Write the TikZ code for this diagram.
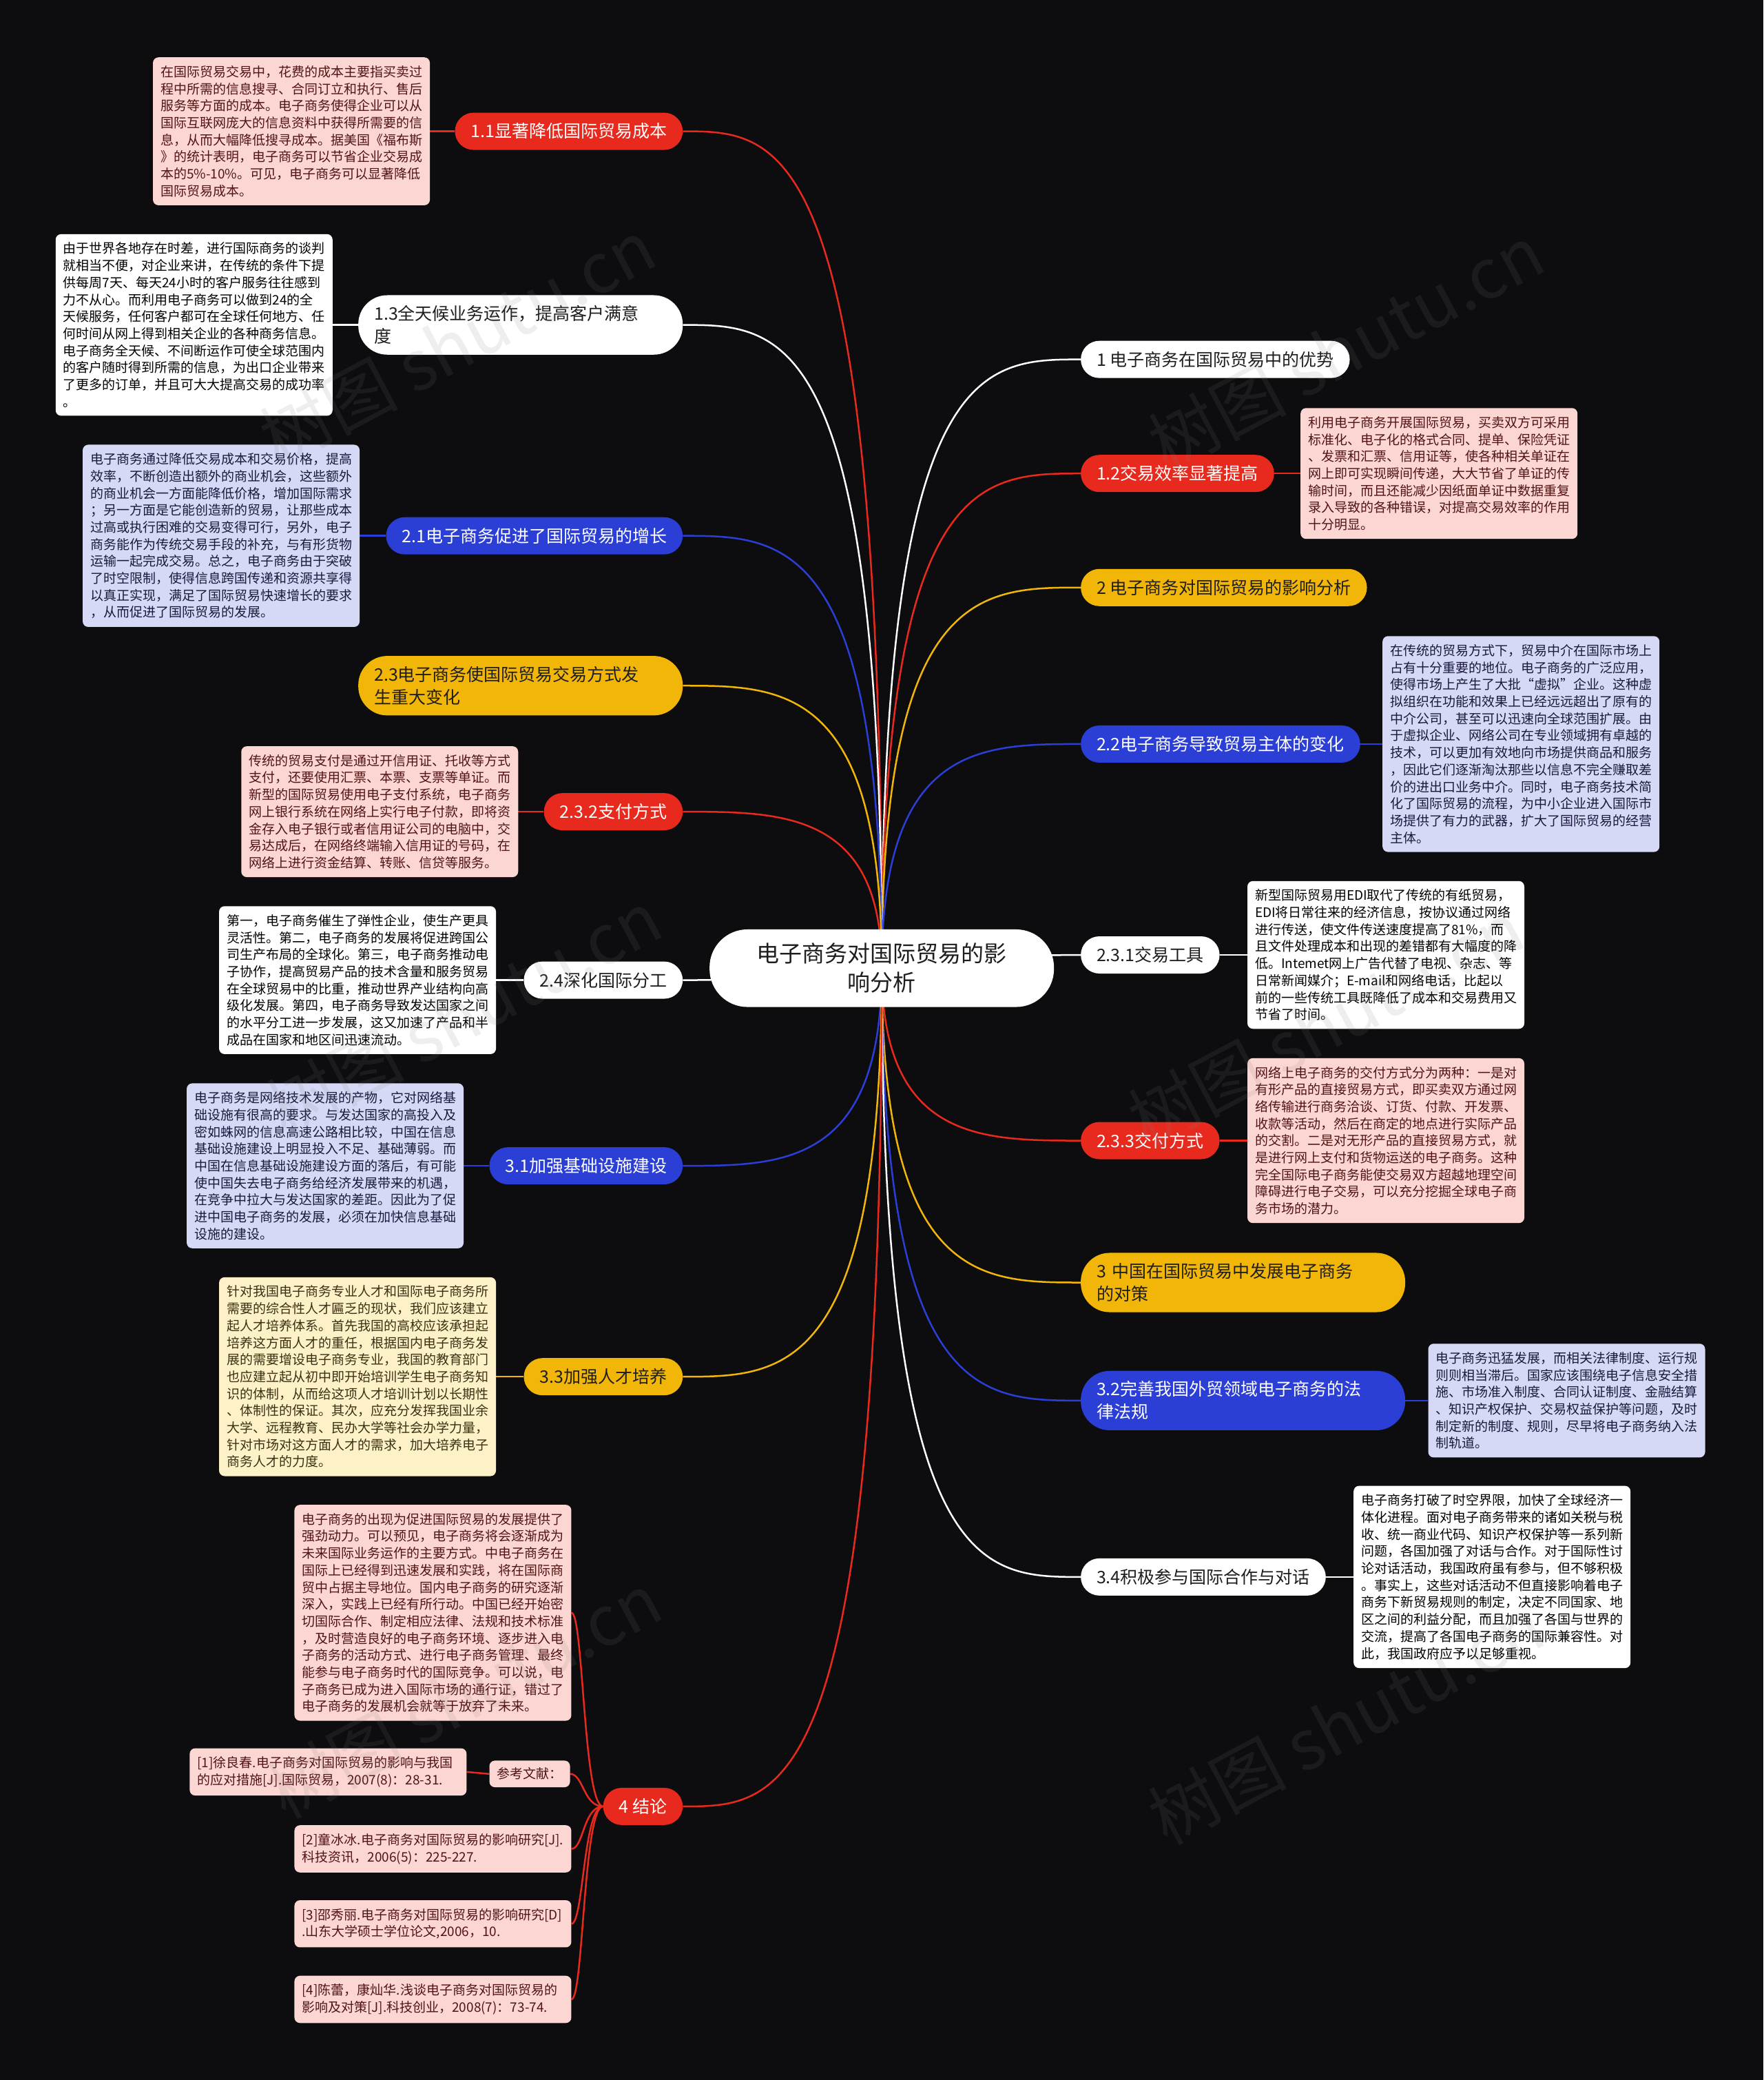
\documentclass[tikz,border=0pt]{standalone}
\usepackage{fontspec}
\newfontfamily\cjk{Noto Sans CJK SC}
\usetikzlibrary{positioning}
\definecolor{bgc}{RGB}{13,13,15}
\definecolor{cred}{RGB}{232,42,30}
\definecolor{cblue}{RGB}{43,62,214}
\definecolor{cyel}{RGB}{242,182,8}
\definecolor{pinkbg}{RGB}{252,214,211}
\definecolor{pinktx}{RGB}{80,20,20}
\definecolor{lavbg}{RGB}{214,217,246}
\definecolor{lavtx}{RGB}{25,25,60}
\definecolor{crmbg}{RGB}{253,241,200}
\definecolor{crmtx}{RGB}{60,48,20}
\definecolor{dtx}{RGB}{30,30,30}
\pgfdeclarelayer{bg}
\pgfdeclarelayer{edges}
\pgfsetlayers{bg,edges,main}
\tikzset{
  pill/.style={rounded corners=27pt, minimum height=54pt, inner xsep=23pt, inner ysep=4pt, font=\cjk\fontsize{25}{33}\selectfont},
  pillred/.style={pill, fill=cred, text=white},
  pillblue/.style={pill, fill=cblue, text=white},
  pillyel/.style={pill, fill=cyel, text=dtx},
  pillwht/.style={pill, fill=white, text=dtx},
  twoline/.style={text width=425pt, align=left, inner ysep=15pt, rounded corners=42pt},
  desc/.style={rounded corners=8pt, text width=380pt, align=left, inner xsep=11pt, inner ysep=12pt, font=\cjk\fontsize{19}{24.7}\selectfont},
  descpink/.style={desc, fill=pinkbg, text=pinktx},
  desclav/.style={desc, fill=lavbg, text=lavtx},
  desccrm/.style={desc, fill=crmbg, text=crmtx},
  descwht/.style={desc, fill=white, text=black},
  refhead/.style={rounded corners=8pt, inner xsep=11pt, inner ysep=10.5pt, fill=pinkbg, text=pinktx, font=\cjk\fontsize{19}{24.7}\selectfont},
  centre/.style={fill=white, text=dtx, rounded corners=55pt, text width=366pt, align=center, inner xsep=67pt, inner ysep=20pt, font=\cjk\fontsize{33}{42}\selectfont},
  lred/.style={draw=cred, line width=2.5pt},
  lblue/.style={draw=cblue, line width=2.5pt},
  lyel/.style={draw=cyel, line width=2.5pt},
  lwht/.style={draw=white, line width=2.5pt},
  wmark/.style={rotate=28, text=gray, opacity=0.13, font=\cjk\fontsize{100}{100}\selectfont}
}
\begin{document}
\begin{tikzpicture}[x=1.925pt, y=-1.925pt]
\begin{pgfonlayer}{bg}
\fill[bgc] (0,0) rectangle (1330,1568.3);
\end{pgfonlayer}
\useasboundingbox (0,0) rectangle (1330,1568.3);

% centre
\node[centre] (c) at (665,730) {电子商务对国际贸易的影\\响分析};

% right side
\node[pillwht, anchor=west] (n1) at (815,271) {1 电子商务在国际贸易中的优势};
\node[pillred, anchor=west] (n12) at (815,357) {1.2交易效率显著提高};
\node[pillyel, anchor=west] (n2) at (815,443) {2 电子商务对国际贸易的影响分析};
\node[pillblue, anchor=west] (n22) at (815,561) {2.2电子商务导致贸易主体的变化};
\node[pillwht, anchor=west] (n231) at (815,720) {2.3.1交易工具};
\node[pillred, anchor=west] (n233) at (815,860) {2.3.3交付方式};
\node[pillyel, twoline, anchor=west] (n3) at (815,967) {3 中国在国际贸易中发展电子商务\\的对策};
\node[pillblue, twoline, anchor=west] (n32) at (815,1056) {3.2完善我国外贸领域电子商务的法\\律法规};
\node[pillwht, anchor=west] (n34) at (815,1189) {3.4积极参与国际合作与对话};

% left side
\node[pillred, anchor=east] (n11) at (515,99) {1.1显著降低国际贸易成本};
\node[pillwht, twoline, anchor=east] (n13) at (515,245) {1.3全天候业务运作，提高客户满意\\度};
\node[pillblue, anchor=east] (n21) at (515,404) {2.1电子商务促进了国际贸易的增长};
\node[pillyel, twoline, anchor=east] (n23) at (515,517) {2.3电子商务使国际贸易交易方式发\\生重大变化};
\node[pillred, anchor=east] (n232) at (515,612) {2.3.2支付方式};
\node[pillwht, anchor=east] (n24) at (515,739) {2.4深化国际分工};
\node[pillblue, anchor=east] (n31) at (515,879) {3.1加强基础设施建设};
\node[pillyel, anchor=east] (n33) at (515,1038) {3.3加强人才培养};
\node[pillred, anchor=east] (n4) at (515,1362) {4 结论};

% descriptions right
\node[descpink, right=38pt of n12] (d12) {利用电子商务开展国际贸易，买卖双方可采用\\标准化、电子化的格式合同、提单、保险凭证\\、发票和汇票、信用证等，使各种相关单证在\\网上即可实现瞬间传递，大大节省了单证的传\\输时间，而且还能减少因纸面单证中数据重复\\录入导致的各种错误，对提高交易效率的作用\\十分明显。};
\node[desclav, right=32pt of n22] (d22) {在传统的贸易方式下，贸易中介在国际市场上\\占有十分重要的地位。电子商务的广泛应用，\\使得市场上产生了大批“虚拟”企业。这种虚\\拟组织在功能和效果上已经远远超出了原有的\\中介公司，甚至可以迅速向全球范围扩展。由\\于虚拟企业、网络公司在专业领域拥有卓越的\\技术，可以更加有效地向市场提供商品和服务\\，因此它们逐渐淘汰那些以信息不完全赚取差\\价的进出口业务中介。同时，电子商务技术简\\化了国际贸易的流程，为中小企业进入国际市\\场提供了有力的武器，扩大了国际贸易的经营\\主体。};
\node[descwht, right=40pt of n231] (d231) {新型国际贸易用EDI取代了传统的有纸贸易，\\EDI将日常往来的经济信息，按协议通过网络\\进行传送，使文件传送速度提高了81\%，而\\且文件处理成本和出现的差错都有大幅度的降\\低。Intemet网上广告代替了电视、杂志、等\\日常新闻媒介；E-mail和网络电话，比起以\\前的一些传统工具既降低了成本和交易费用又\\节省了时间。};
\node[descpink, right=40pt of n233] (d233) {网络上电子商务的交付方式分为两种：一是对\\有形产品的直接贸易方式，即买卖双方通过网\\络传输进行商务洽谈、订货、付款、开发票、\\收款等活动，然后在商定的地点进行实际产品\\的交割。二是对无形产品的直接贸易方式，就\\是进行网上支付和货物运送的电子商务。这种\\完全国际电子商务能使交易双方超越地理空间\\障碍进行电子交易，可以充分挖掘全球电子商\\务市场的潜力。};
\node[desclav, right=33pt of n32] (d32) {电子商务迅猛发展，而相关法律制度、运行规\\则则相当滞后。国家应该围绕电子信息安全措\\施、市场准入制度、合同认证制度、金融结算\\、知识产权保护、交易权益保护等问题，及时\\制定新的制度、规则，尽早将电子商务纳入法\\制轨道。};
\node[descwht, right=40pt of n34] (d34) {电子商务打破了时空界限，加快了全球经济一\\体化进程。面对电子商务带来的诸如关税与税\\收、统一商业代码、知识产权保护等一系列新\\问题，各国加强了对话与合作。对于国际性讨\\论对话活动，我国政府虽有参与，但不够积极\\。事实上，这些对话活动不但直接影响着电子\\商务下新贸易规则的制定，决定不同国家、地\\区之间的利益分配，而且加强了各国与世界的\\交流，提高了各国电子商务的国际兼容性。对\\此，我国政府应予以足够重视。};

% descriptions left
\node[descpink, left=36pt of n11] (d11) {在国际贸易交易中，花费的成本主要指买卖过\\程中所需的信息搜寻、合同订立和执行、售后\\服务等方面的成本。电子商务使得企业可以从\\国际互联网庞大的信息资料中获得所需要的信\\息，从而大幅降低搜寻成本。据美国《福布斯\\》的统计表明，电子商务可以节省企业交易成\\本的5\%-10\%。可见，电子商务可以显著降低\\国际贸易成本。};
\node[descwht, left=37pt of n13] (d13) {由于世界各地存在时差，进行国际商务的谈判\\就相当不便，对企业来讲，在传统的条件下提\\供每周7天、每天24小时的客户服务往往感到\\力不从心。而利用电子商务可以做到24的全\\天候服务，任何客户都可在全球任何地方、任\\何时间从网上得到相关企业的各种商务信息。\\电子商务全天候、不间断运作可使全球范围内\\的客户随时得到所需的信息，为出口企业带来\\了更多的订单，并且可大大提高交易的成功率\\。};
\node[desclav, left=38pt of n21] (d21) {电子商务通过降低交易成本和交易价格，提高\\效率，不断创造出额外的商业机会，这些额外\\的商业机会一方面能降低价格，增加国际需求\\；另一方面是它能创造新的贸易，让那些成本\\过高或执行困难的交易变得可行，另外，电子\\商务能作为传统交易手段的补充，与有形货物\\运输一起完成交易。总之，电子商务由于突破\\了时空限制，使得信息跨国传递和资源共享得\\以真正实现，满足了国际贸易快速增长的要求\\，从而促进了国际贸易的发展。};
\node[descpink, left=37pt of n232] (d232) {传统的贸易支付是通过开信用证、托收等方式\\支付，还要使用汇票、本票、支票等单证。而\\新型的国际贸易使用电子支付系统，电子商务\\网上银行系统在网络上实行电子付款，即将资\\金存入电子银行或者信用证公司的电脑中，交\\易达成后，在网络终端输入信用证的号码，在\\网络上进行资金结算、转账、信贷等服务。};
\node[descwht, left=40pt of n24] (d24) {第一，电子商务催生了弹性企业，使生产更具\\灵活性。第二，电子商务的发展将促进跨国公\\司生产布局的全球化。第三，电子商务推动电\\子协作，提高贸易产品的技术含量和服务贸易\\在全球贸易中的比重，推动世界产业结构向高\\级化发展。第四，电子商务导致发达国家之间\\的水平分工进一步发展，这又加速了产品和半\\成品在国家和地区间迅速流动。};
\node[desclav, left=37pt of n31] (d31) {电子商务是网络技术发展的产物，它对网络基\\础设施有很高的要求。与发达国家的高投入及\\密如蛛网的信息高速公路相比较，中国在信息\\基础设施建设上明显投入不足、基础薄弱。而\\中国在信息基础设施建设方面的落后，有可能\\使中国失去电子商务给经济发展带来的机遇，\\在竞争中拉大与发达国家的差距。因此为了促\\进中国电子商务的发展，必须在加快信息基础\\设施的建设。};
\node[desccrm, left=40pt of n33] (d33) {针对我国电子商务专业人才和国际电子商务所\\需要的综合性人才匾乏的现状，我们应该建立\\起人才培养体系。首先我国的高校应该承担起\\培养这方面人才的重任，根据国内电子商务发\\展的需要增设电子商务专业，我国的教育部门\\也应建立起从初中即开始培训学生电子商务知\\识的体制，从而给这项人才培训计划以长期性\\、体制性的保证。其次，应充分发挥我国业余\\大学、远程教育、民办大学等社会办学力量，\\针对市场对这方面人才的需求，加大培养电子\\商务人才的力度。};

% conclusion children
\node[descpink, anchor=east] (d4) at (431,1216) {电子商务的出现为促进国际贸易的发展提供了\\强劲动力。可以预见，电子商务将会逐渐成为\\未来国际业务运作的主要方式。中电子商务在\\国际上已经得到迅速发展和实践，将在国际商\\贸中占据主导地位。国内电子商务的研究逐渐\\深入，实践上已经有所行动。中国已经开始密\\切国际合作、制定相应法律、法规和技术标准\\，及时营造良好的电子商务环境、逐步进入电\\子商务的活动方式、进行电子商务管理、最终\\能参与电子商务时代的国际竞争。可以说，电\\子商务已成为进入国际市场的通行证，错过了\\电子商务的发展机会就等于放弃了未来。};
\node[refhead, anchor=east] (rh) at (430,1337.5) {参考文献：};
\node[descpink, anchor=east] (r1) at (352,1336) {[1]徐良春.电子商务对国际贸易的影响与我国\\的应对措施[J].国际贸易，2007(8)：28-31.};
\node[descpink, anchor=east] (r2) at (431,1394) {[2]童冰冰.电子商务对国际贸易的影响研究[J].\\科技资讯，2006(5)：225-227.};
\node[descpink, anchor=east] (r3) at (431,1450.5) {[3]邵秀丽.电子商务对国际贸易的影响研究[D]\\.山东大学硕士学位论文,2006，10.};
\node[descpink, anchor=east] (r4) at (431,1507.5) {[4]陈蕾，康灿华.浅谈电子商务对国际贸易的\\影响及对策[J].科技创业，2008(7)：73-74.};

% edges
\begin{pgfonlayer}{edges}
\draw[lwht] (c.center) .. controls (665,271) and (740,271) .. (n1.west);
\draw[lred] (c.center) .. controls (665,357) and (740,357) .. (n12.west);
\draw[lyel] (c.center) .. controls (665,443) and (740,443) .. (n2.west);
\draw[lblue] (c.center) .. controls (665,561) and (740,561) .. (n22.west);
\draw[lwht] (c.center) .. controls (700,725) and (760,720) .. (n231.west);
\draw[lred] (c.center) .. controls (665,860) and (740,860) .. (n233.west);
\draw[lyel] (c.center) .. controls (665,967) and (740,967) .. (n3.west);
\draw[lblue] (c.center) .. controls (665,1056) and (740,1056) .. (n32.west);
\draw[lwht] (c.center) .. controls (665,1189) and (740,1189) .. (n34.west);
\draw[lred] (c.center) .. controls (665,99) and (590,99) .. (n11.east);
\draw[lwht] (c.center) .. controls (665,245) and (590,245) .. (n13.east);
\draw[lblue] (c.center) .. controls (665,404) and (590,404) .. (n21.east);
\draw[lyel] (c.center) .. controls (665,517) and (590,517) .. (n23.east);
\draw[lred] (c.center) .. controls (665,612) and (590,612) .. (n232.east);
\draw[lwht] (c.center) .. controls (630,735) and (570,739) .. (n24.east);
\draw[lblue] (c.center) .. controls (665,879) and (590,879) .. (n31.east);
\draw[lyel] (c.center) .. controls (665,1038) and (590,1038) .. (n33.east);
\draw[lred] (c.center) .. controls (665,1362) and (590,1362) .. (n4.east);
% to descriptions
\draw[lred] (n12.east) -- (d12.west);
\draw[lblue] (n22.east) -- (d22.west);
\draw[lwht] (n231.east) -- (d231.west);
\draw[lred] (n233.east) -- (d233.west);
\draw[lblue] (n32.east) -- (d32.west);
\draw[lwht] (n34.east) -- (d34.west);
\draw[lred] (n11.west) -- (d11.east);
\draw[lwht] (n13.west) -- (d13.east);
\draw[lblue] (n21.west) -- (d21.east);
\draw[lred] (n232.west) -- (d232.east);
\draw[lwht] (n24.west) -- (d24.east);
\draw[lblue] (n31.west) -- (d31.east);
\draw[lyel] (n33.west) -- (d33.east);
% conclusion
\draw[lred] (n4.west) .. controls (440,1362) and (440,1216) .. (d4.east);
\draw[lred] (n4.west) .. controls (440,1362) and (440,1337.5) .. (rh.east);
\draw[lred] (n4.west) .. controls (440,1362) and (440,1394) .. (r2.east);
\draw[lred] (n4.west) .. controls (440,1362) and (440,1450.5) .. (r3.east);
\draw[lred] (n4.west) .. controls (440,1362) and (440,1507.5) .. (r4.east);
\draw[lred] (rh.west) -- (r1.east);
\end{pgfonlayer}

% watermarks
\node[wmark] (w1) at (345,258) {树图 shutu.cn};
\node[wmark] (w2) at (1015,262) {树图 shutu.cn};
\node[wmark] (w3) at (350,764) {树图 shutu.cn};
\node[wmark] (w4) at (1000,772) {树图 shutu.cn};
\node[wmark] (w5) at (350,1278) {树图 shutu.cn};
\node[wmark] (w6) at (1015,1298) {树图 shutu.cn};
\end{tikzpicture}
\end{document}
